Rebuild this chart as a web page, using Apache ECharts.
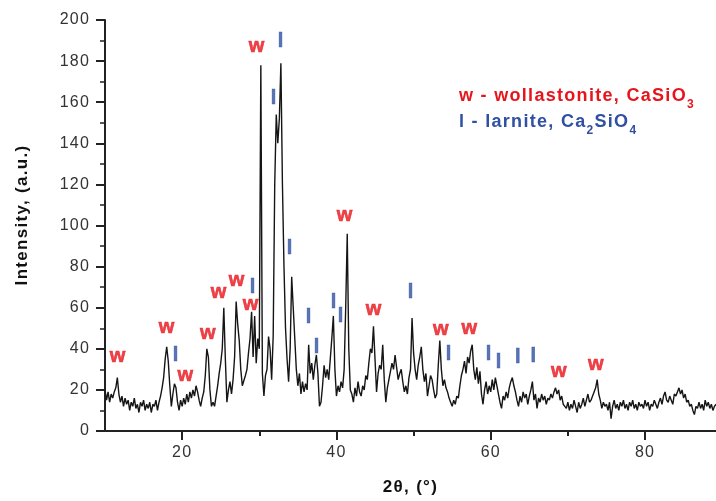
<!DOCTYPE html>
<html><head><meta charset="utf-8">
<script src="https://cdn.jsdelivr.net/npm/echarts@6/dist/echarts.min.js"></script>
<style>html,body{margin:0;padding:0;background:#fff}#c{width:716px;height:501px}</style>
</head><body><div id="c"></div>
<script>
// Measurement grid (2θ, degrees)
const thetaStart = 10.0;
const thetaStep = 0.2;
// Intensity, 5 samples per degree from 10.0 to 89.2
const intensity = [
  20,15,19,14,18, 16,19,21,26,18, 14,17,12,16,13, 15,10,14,12,16, 11,13,9,14,12,
  15,10,13,11,14, 9,13,12,15,10, 14,17,21,26,35, 41,34,22,12,18, 23,21,14,10,15,
  12,16,13,18,14, 19,16,20,17,22, 19,15,12,16,19, 27,40,36,20,12, 14,12,17,22,28,
  33,40,60,35,14, 20,24,18,25,36, 63,52,44,30,22, 22,27,30,38,45, 58,36,56,33,45,
  40,178,28,17,27, 30,46,40,25,46, 120,154,140,152,179, 120,80,50,35,24, 40,75,60,45,30,
  22,28,18,24,19, 23,20,42,28,33, 25,32,37,28,12, 14,22,32,26,30, 25,35,45,56,30,
  17,22,19,24,21, 30,60,96,40,20, 18,14,21,17,24, 19,17,22,20,27, 25,33,40,38,51,
  35,19,28,32,30, 42,25,14,21,25, 29,33,30,37,31, 25,28,30,24,19, 22,18,26,30,55,
  38,30,25,32,36, 41,30,24,28,17, 22,27,25,20,16, 18,32,44,30,22, 25,21,19,16,14,
  12,15,13,17,16, 22,27,30,34,28, 36,33,39,42,30, 25,31,23,29,18, 13,20,24,18,22,
  19,25,20,26,22, 18,14,11,17,15, 19,16,21,24,26, 22,19,15,12,17, 14,19,16,18,13,
  17,20,24,15,18, 11,16,14,18,15, 17,13,16,15,18, 16,19,21,18,20, 15,17,13,12,11,
  14,10,13,11,15, 12,9,14,11,13, 16,12,15,18,14, 15,17,19,21,25, 18,15,11,14,12,
  13,10,14,6,12, 15,11,13,10,14, 12,15,11,13,10, 14,12,15,11,13, 10,14,12,13,11,
  15,12,14,10,13, 12,15,13,11,14, 16,13,17,19,15, 14,17,15,13,18, 17,19,21,18,20,
  16,18,14,15,12, 13,10,8,12,11, 14,11,13,10,15, 12,14,11,13,10,12,13
];
const xTickLabels = [20, 40, 60, 80];
const xMinorTicks = [30, 50, 70];
// Phase annotations (label centres in data units)
const wollastoniteX = [11.71, 18.06, 20.5, 23.4, 24.8, 27.13, 28.95, 29.73, 41.13, 44.9, 53.6, 57.3, 68.9, 73.7];
const wollastoniteY = [36.1, 50.2, 26.9, 47.3, 67.6, 73.4, 61.8, 186.9, 104.9, 59.3, 49.2, 49.7, 28.9, 32.3];
const larniteX = [19.23, 29.2, 31.93, 32.84, 34.0, 36.47, 37.5, 39.7, 40.6, 49.7, 54.6, 59.8, 61.1, 63.6, 65.6];
const larniteY = [36.6, 69.6, 161.6, 189.4, 89, 55, 40.5, 62.3, 55.6, 67.6, 37.0, 37.0, 33.2, 35.6, 36.1];

const FONT = "'Liberation Sans', Arial, sans-serif";
const RED = '#e8141c';
const BLUE = '#2f50a3';
const AXIS = '#222';
const BOLD_SPACING = 1.3;   // px, the reference text is set with wide tracking
const PLAIN_SPACING = 1.2;

// draw all canvas text with the reference's wide letter spacing
(function () {
  const proto = CanvasRenderingContext2D.prototype;
  const orig = proto.fillText;
  proto.fillText = function (t, x, y, m) {
    try { this.letterSpacing = (/bold/.test(this.font) ? BOLD_SPACING : PLAIN_SPACING) + 'px'; } catch (e) {}
    return m === undefined ? orig.call(this, t, x, y) : orig.call(this, t, x, y, m);
  };
})();

const lineData = intensity.map((v, i) => [+(thetaStart + thetaStep * i).toFixed(2), v]);
const wData = wollastoniteX.map((x, i) => [x, wollastoniteY[i]]);
const lData = larniteX.map((x, i) => [x, larniteY[i]]);

const annLabel = (txt, col) => ({
  show: true, position: 'inside', formatter: txt, color: col, fontSize: 20, fontWeight: 'bold',
  fontFamily: FONT, textBorderColor: col, textBorderWidth: 0.6
});

const chart = echarts.init(document.getElementById('c'), null, {renderer: 'canvas'});
chart.setOption({
  animation: false,
  backgroundColor: '#fff',
  grid: {left: 105, right: 0, top: 20, bottom: 69, containLabel: false},
  xAxis: [{
    type: 'value', min: 10, max: 89.2, position: 'bottom',
    axisLine: {show: true, onZero: false, lineStyle: {color: AXIS, width: 2}},
    axisTick: {show: true, customValues: xTickLabels, length: 9, lineStyle: {color: AXIS, width: 2}},
    axisLabel: {customValues: xTickLabels, color: '#333', fontSize: 16, margin: 14, fontFamily: FONT},
    splitLine: {show: false},
    name: '2θ, (°)', nameLocation: 'middle', nameGap: 48,
    nameTextStyle: {color: '#111', fontSize: 17, fontWeight: 'bold', fontFamily: FONT}
  }, {
    type: 'value', min: 10, max: 89.2, position: 'bottom',
    axisLine: {show: false, onZero: false},
    axisTick: {show: true, customValues: xMinorTicks, length: 5, lineStyle: {color: AXIS, width: 2}},
    axisLabel: {show: false},
    splitLine: {show: false}
  }],
  yAxis: {
    type: 'value', min: 0, max: 200, interval: 20,
    axisLine: {show: true, lineStyle: {color: AXIS, width: 2}},
    axisTick: {show: true, length: 9, lineStyle: {color: AXIS, width: 2}},
    minorTick: {show: true, splitNumber: 2, length: 5, lineStyle: {color: AXIS, width: 1.5}},
    axisLabel: {color: '#333', fontSize: 16, margin: 15, fontFamily: FONT},
    splitLine: {show: false},
    minorSplitLine: {show: false}
  },
  series: [{
    type: 'line', data: lineData, showSymbol: false, symbol: 'none',
    lineStyle: {color: '#151515', width: 1.4}, sampling: null, z: 2
  }, {
    type: 'scatter', data: wData, symbolSize: 1, itemStyle: {color: 'rgba(0,0,0,0)'},
    silent: true, z: 5, label: annLabel('w', RED)
  }, {
    type: 'scatter', data: lData, symbolSize: 1, itemStyle: {color: 'rgba(0,0,0,0)'},
    silent: true, z: 5, label: annLabel('l', BLUE)
  }],
  graphic: [{
    type: 'text', x: 22, y: 215, rotation: Math.PI / 2, silent: true,
    style: {
      text: 'Intensity, (a.u.)', fill: '#111', fontSize: 17, fontWeight: 'bold', fontFamily: FONT,
      align: 'center', verticalAlign: 'middle'
    }
  }, {
    type: 'text', left: 459, top: 87, silent: true,
    style: {
      text: '{a|w - wollastonite, CaSiO}{s|3}',
      rich: {
        a: {fill: RED, fontSize: 18, fontWeight: 'bold', fontFamily: FONT, lineHeight: 30},
        s: {fill: RED, fontSize: 12, fontWeight: 'bold', fontFamily: FONT, verticalAlign: 'bottom',
            padding: [0, 0, 0, 23 * BOLD_SPACING]}
      }
    }
  }, {
    type: 'text', left: 459, top: 113, silent: true,
    style: {
      text: '{a|l - larnite, Ca}{s|2}{b|SiO}{t|4}',
      rich: {
        a: {fill: BLUE, fontSize: 18, fontWeight: 'bold', fontFamily: FONT, lineHeight: 30},
        s: {fill: BLUE, fontSize: 12, fontWeight: 'bold', fontFamily: FONT, verticalAlign: 'bottom',
            padding: [0, 0, 0, 15 * BOLD_SPACING]},
        b: {fill: BLUE, fontSize: 18, fontWeight: 'bold', fontFamily: FONT, lineHeight: 30,
            padding: [0, 0, 0, 1 * BOLD_SPACING]},
        t: {fill: BLUE, fontSize: 12, fontWeight: 'bold', fontFamily: FONT, verticalAlign: 'bottom',
            padding: [0, 0, 0, 3 * BOLD_SPACING]}
      }
    }
  }]
});
</script>
</body></html>
